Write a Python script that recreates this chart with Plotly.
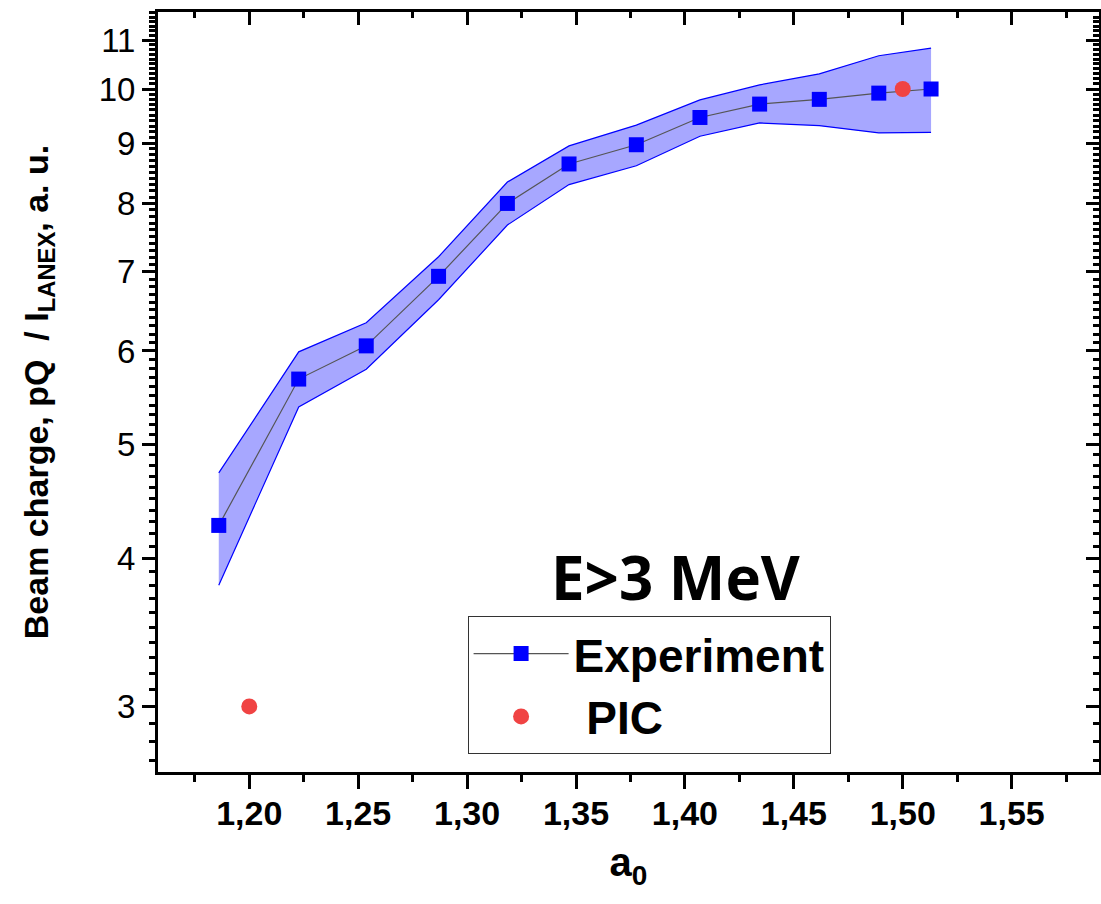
import math
import plotly.graph_objects as go

# ---- data ----
a0_exp = [1.1860, 1.2227, 1.2537, 1.2869, 1.3185, 1.3468, 1.3777, 1.4069, 1.4343, 1.4617, 1.4890, 1.5130]
q_exp = [4.27, 5.68, 6.06, 6.94, 8.00, 8.64, 8.97, 9.46, 9.71, 9.80, 9.92, 10.00]
q_upper = [4.73, 5.99, 6.34, 7.21, 8.34, 8.95, 9.32, 9.79, 10.08, 10.30, 10.67, 10.83]
q_lower = [3.80, 5.38, 5.79, 6.63, 7.67, 8.30, 8.61, 9.12, 9.36, 9.31, 9.18, 9.19]

a0_pic = [1.20, 1.50]
q_pic = [3.0, 10.0]

x_ticks = [1.20, 1.25, 1.30, 1.35, 1.40, 1.45, 1.50, 1.55]
x_ticktext = ["1,20", "1,25", "1,30", "1,35", "1,40", "1,45", "1,50", "1,55"]
y_ticks = [3, 4, 5, 6, 7, 8, 9, 10, 11]
y_ticktext = ["3", "4", "5", "6", "7", "8", "9", "10", "11"]
y_minor = [round(2.6 + 0.1 * i, 1) for i in range(91)]

x_range = [1.1581, 1.5901]
y_range_vals = [2.64, 11.62]
y_range = [math.log10(y_range_vals[0]), math.log10(y_range_vals[1])]

BLUE = "#0000ff"
RED = "#f04343"
FONT = "Liberation Sans, Arial"

fig = go.Figure()

# band
fig.add_trace(go.Scatter(x=a0_exp, y=q_lower, mode="lines",
                         line=dict(color=BLUE, width=1.2), showlegend=False, hoverinfo="skip"))
fig.add_trace(go.Scatter(x=a0_exp, y=q_upper, mode="lines", fill="tonexty",
                         fillcolor="rgba(80,80,255,0.5)",
                         line=dict(color=BLUE, width=1.2), showlegend=False, hoverinfo="skip"))

# experiment
fig.add_trace(go.Scatter(x=a0_exp, y=q_exp, mode="lines+markers", name="Experiment",
                         line=dict(color="#555555", width=1.2),
                         marker=dict(symbol="square", size=15, color=BLUE, line=dict(width=0))))
# PIC
fig.add_trace(go.Scatter(x=a0_pic, y=q_pic, mode="markers", name="\u00a0PIC",
                         marker=dict(symbol="circle", size=16, color=RED, line=dict(width=0))))

# dummy trace for mirrored tick axes
fig.add_trace(go.Scatter(x=[1.3], y=[5], xaxis="x2", yaxis="y2", mode="markers",
                         marker=dict(opacity=0), showlegend=False, hoverinfo="skip"))

fig.update_layout(
    width=1101, height=904,
    margin=dict(l=158, r=2, t=12, b=132),
    paper_bgcolor="white", plot_bgcolor="white",
    showlegend=True,
    legend=dict(x=0.329, y=0.205, xanchor="left", yanchor="top", traceorder="normal",
                bgcolor="white", bordercolor="#333333", borderwidth=1,
                font=dict(family=FONT, size=46, color="black", weight="bold"),
                itemwidth=95, tracegroupgap=0),
    xaxis=dict(range=x_range, showgrid=False, zeroline=False, automargin=False,
               showline=True, linecolor="black", linewidth=3, mirror=True,
               ticks="outside", ticklen=14, tickwidth=2.5, tickcolor="black",
               tickmode="array", tickvals=x_ticks, ticktext=x_ticktext,
               ticklabelstandoff=-5,
               tickfont=dict(family=FONT, size=34, color="black", weight="bold"),
               minor=dict(ticks="outside", ticklen=7, tickwidth=2.5, tickcolor="black",
                          dtick=0.05, tick0=1.175, showgrid=False),
               title=dict(text="a<sub>0</sub>", standoff=18,
                          font=dict(family=FONT, size=40, color="black", weight="bold"))),
    yaxis=dict(type="log", range=y_range, showgrid=False, zeroline=False, automargin=False,
               showline=True, linecolor="black", linewidth=3, mirror=True,
               ticks="outside", ticklen=13, tickwidth=2.5, tickcolor="black",
               tickmode="array", tickvals=y_ticks, ticktext=y_ticktext,
               tickfont=dict(family=FONT, size=33, color="black"),
               minor=dict(ticks="outside", ticklen=6, tickwidth=2.5, tickcolor="black",
                          tickmode="array", tickvals=y_minor, showgrid=False),
               title=dict(text="Beam charge, pQ  / I<sub>LANEX</sub>, a. u.", standoff=40,
                          font=dict(family=FONT, size=34, color="black", weight="bold"))),
    xaxis2=dict(overlaying="x", side="top", range=x_range, showgrid=False, zeroline=False,
                automargin=False,
                showline=False, ticks="inside", ticklen=13, tickwidth=2.5, tickcolor="black",
                tickmode="array", tickvals=x_ticks, showticklabels=False,
                minor=dict(ticks="inside", ticklen=6, tickwidth=2.5, tickcolor="black",
                           dtick=0.05, tick0=1.175, showgrid=False)),
    yaxis2=dict(overlaying="y", side="right", type="log", range=y_range, showgrid=False, zeroline=False,
                automargin=False,
                showline=False, ticks="inside", ticklen=13, tickwidth=2.5, tickcolor="black",
                tickmode="array", tickvals=y_ticks, showticklabels=False,
                minor=dict(ticks="inside", ticklen=6, tickwidth=2.5, tickcolor="black",
                           tickmode="array", tickvals=y_minor, showgrid=False)),
    annotations=[dict(text="<b>E>3 MeV</b>", x=0.55, y=0.257, xref="paper", yref="paper",
                      xanchor="center", yanchor="middle", showarrow=False,
                      font=dict(family="Open Sans", size=60, color="black"))],
)

fig.write_html("out.html")
